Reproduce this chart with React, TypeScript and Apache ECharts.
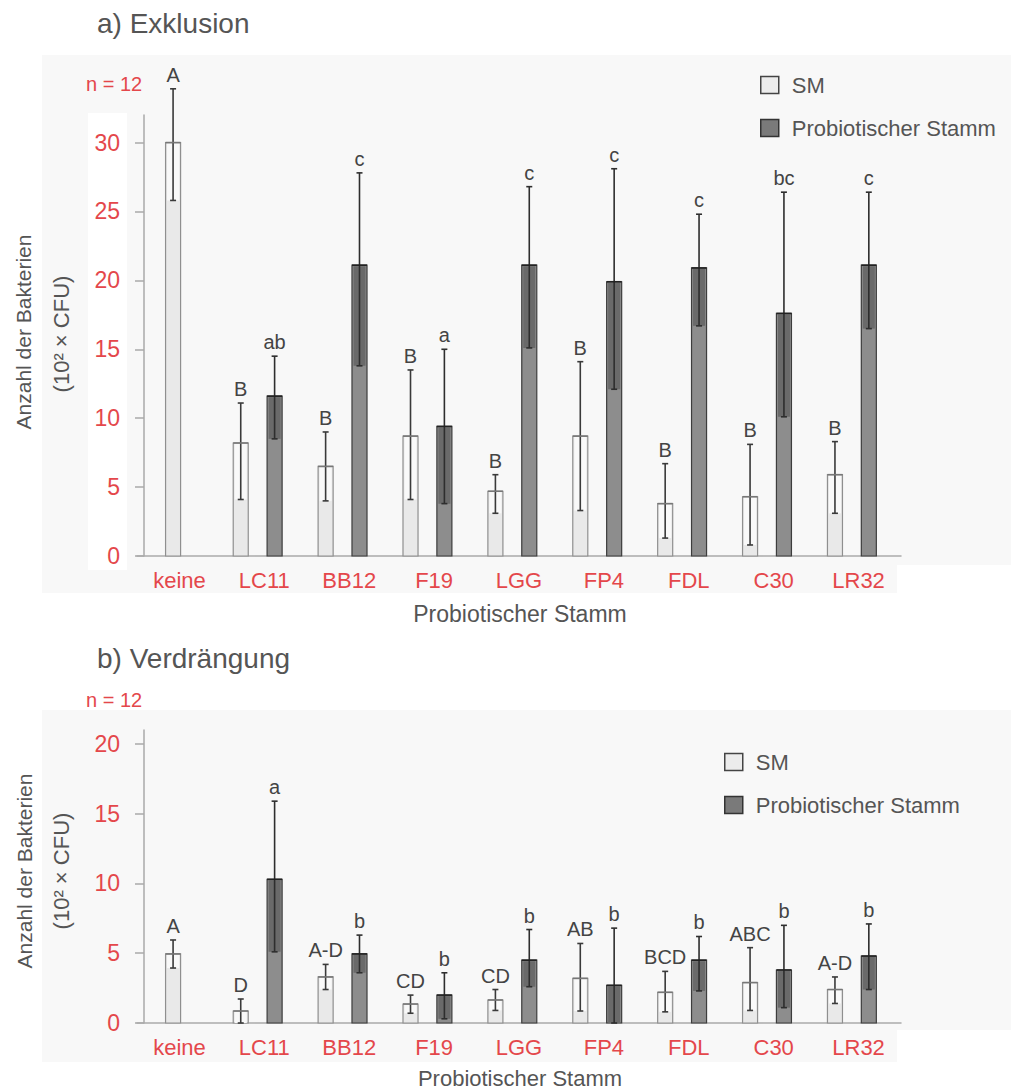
import React, { useEffect, useRef } from 'react';
import * as echarts from 'echarts';

// ---------- data ----------
const categories = ['keine', 'LC11', 'BB12', 'F19', 'LGG', 'FP4', 'FDL', 'C30', 'LR32'];
const yTicksA = [0, 5, 10, 15, 20, 25, 30];
const yTicksB = [0, 5, 10, 15, 20];

// a) Exklusion
const exSmMean = [30.0, 8.2, 6.5, 8.7, 4.7, 8.7, 3.8, 4.3, 5.9];
const exSmLow = [25.8, 4.1, 4.0, 4.1, 3.1, 3.3, 1.3, 0.8, 3.1];
const exSmHigh = [33.9, 11.1, 9.0, 13.5, 5.9, 14.1, 6.7, 8.1, 8.3];
const exSmLetters = ['A', 'B', 'B', 'B', 'B', 'B', 'B', 'B', 'B'];
const exProbMean = [null, 11.6, 21.1, 9.4, 21.1, 19.9, 20.9, 17.6, 21.1];
const exProbLow = [null, 8.5, 13.8, 3.8, 15.1, 12.1, 16.7, 10.1, 16.5];
const exProbHigh = [null, 14.5, 27.8, 15.0, 26.8, 28.1, 24.8, 26.4, 26.4];
const exProbLetters = [null, 'ab', 'c', 'a', 'c', 'c', 'c', 'bc', 'c'];

// b) Verdrängung
const vdSmMean = [4.95, 0.86, 3.3, 1.36, 1.65, 3.2, 2.2, 2.9, 2.4];
const vdSmLow = [3.94, 0.0, 2.4, 0.7, 0.9, 0.86, 0.8, 0.9, 1.4];
const vdSmHigh = [5.95, 1.72, 4.2, 2.0, 2.4, 5.7, 3.7, 5.4, 3.3];
const vdSmLetters = ['A', 'D', 'A-D', 'CD', 'CD', 'AB', 'BCD', 'ABC', 'A-D'];
const vdProbMean = [null, 10.3, 4.95, 2.0, 4.5, 2.7, 4.5, 3.8, 4.8];
const vdProbLow = [null, 5.1, 3.6, 0.3, 2.6, 0.0, 2.3, 1.1, 2.4];
const vdProbHigh = [null, 15.9, 6.3, 3.6, 6.7, 6.8, 6.2, 7.0, 7.1];
const vdProbLetters = [null, 'a', 'b', 'b', 'b', 'b', 'b', 'b', 'b'];

// ---------- styles ----------
const RED = '#e4474b';
const TXT = '#555555';
const FONT = '"Liberation Sans", Arial, Helvetica, sans-serif';

const STYLE = {
  sm: { fill: '#e9e9e9', stroke: '#8f8f8f', band: '#f9f9f9', err: '#3a3a3a' },
  prob: { fill: '#8d8d8d', stroke: '#3d3d3d', band: '#6a6a6a', err: '#2e2e2e' },
};

function makeRender(kind: 'sm' | 'prob', letters: (string | null)[], probMean: (number | null)[]) {
  const st = STYLE[kind];
  return (params: any, api: any) => {
    const idx = api.value(0);
    const mean = api.value(1);
    const lo = api.value(2);
    const hi = api.value(3);
    const band = api.size([1, 0])[0];
    const base = api.coord([idx, 0]);
    const solo = kind === 'sm' && probMean[idx] == null;
    const off = solo ? -0.075 : kind === 'sm' ? -0.278 : 0.121;
    const w = band * 0.177;
    const cx = base[0] + off * band;
    const yTop = api.coord([idx, mean])[1];
    const yLo = api.coord([idx, lo])[1];
    const yHi = api.coord([idx, hi])[1];
    const children: any[] = [
      {
        type: 'rect',
        shape: { x: cx - w / 2, y: yTop, width: w, height: base[1] - yTop },
        style: { fill: st.fill, stroke: st.stroke, lineWidth: 1.2 },
      },
    ];
    if (yLo > yTop + 1) {
      children.push({
        type: 'rect',
        shape: { x: cx - w / 2 + 1.5, y: yTop + 1, width: w - 3, height: yLo - yTop - 1 },
        style: { fill: st.band },
      });
    }
    children.push(
      { type: 'line', shape: { x1: cx, y1: yLo, x2: cx, y2: yHi }, style: { stroke: st.err, lineWidth: 1.6 } },
      { type: 'line', shape: { x1: cx - 3, y1: yHi, x2: cx + 3, y2: yHi }, style: { stroke: st.err, lineWidth: 1.6 } },
      { type: 'line', shape: { x1: cx - 3, y1: yLo, x2: cx + 3, y2: yLo }, style: { stroke: st.err, lineWidth: 1.6 } },
      {
        type: 'line',
        shape: { x1: cx - w / 2, y1: yTop, x2: cx + w / 2, y2: yTop },
        style: { stroke: kind === 'prob' ? '#222' : '#777', lineWidth: 1.6 },
      }
    );
    const letter = letters[idx];
    if (letter) {
      children.push({
        type: 'text',
        x: cx,
        y: yHi - 4,
        style: {
          text: letter,
          align: 'center',
          verticalAlign: 'bottom',
          fontSize: 20,
          fontFamily: FONT,
          fill: '#444',
        },
      });
    }
    return { type: 'group', children };
  };
}

function buildData(mean: (number | null)[], low: (number | null)[], high: (number | null)[]) {
  const out: any[] = [];
  mean.forEach((m, i) => {
    if (m != null) out.push([i, m, low[i], high[i]]);
  });
  return out;
}

function xAxisOpt(gridIndex: number) {
  return {
    type: 'category',
    gridIndex,
    data: categories,
    axisLine: { show: true, lineStyle: { color: '#aaaaaa', width: 1.5 } },
    axisTick: { show: false },
    splitLine: { show: false },
    axisLabel: {
      interval: 0,
      color: RED,
      fontSize: 22,
      fontFamily: FONT,
      margin: 13,
    },
  };
}

function yAxisOpt(gridIndex: number, max: number, ticks: number[]) {
  return {
    type: 'value',
    gridIndex,
    min: 0,
    max,
    offset: -7,
    axisLine: { show: true, lineStyle: { color: '#aaaaaa', width: 1.5 } },
    axisTick: { show: true, length: 9, lineStyle: { color: '#aaaaaa', width: 1.5 }, customValues: ticks },
    splitLine: { show: false },
    axisLabel: { color: RED, fontSize: 23, fontFamily: FONT, margin: 24, customValues: ticks },
  };
}

function legendOpt(left: number, top: number) {
  return {
    orient: 'vertical',
    left,
    top,
    itemWidth: 18,
    itemHeight: 17,
    itemGap: 21,
    selectedMode: false,
    textStyle: { color: TXT, fontSize: 22, fontFamily: FONT, lineHeight: 22, padding: [0, 0, 0, 8] },
    data: [
      { name: 'SM', icon: 'rect', itemStyle: { color: '#ececec', borderColor: '#444', borderWidth: 1.5 } },
      { name: 'Probiotischer Stamm', icon: 'rect', itemStyle: { color: '#7a7a7a', borderColor: '#333', borderWidth: 1.5 } },
    ],
  };
}

function textEl(text: string, x: number, y: number, size: number, color: string, extra: any = {}) {
  return {
    type: 'text',
    x,
    y,
    z: 10,
    ...extra,
    style: { text, fontSize: size, fontFamily: FONT, fill: color, align: 'left', verticalAlign: 'middle', ...(extra.style || {}) },
  };
}

export default function App() {
  const ref = useRef<HTMLDivElement>(null);
  useEffect(() => {
    document.body.style.margin = '0';
    if (!ref.current) return;
    const chart = echarts.init(ref.current, undefined, { renderer: 'svg' });
    const option: any = {
      animation: false,
      backgroundColor: '#ffffff',
      grid: [
        { left: 137, top: 115, width: 764, height: 441 },
        { left: 137, top: 730, width: 764, height: 293 },
      ],
      xAxis: [xAxisOpt(0), xAxisOpt(1)],
      yAxis: [yAxisOpt(0, 32, yTicksA), yAxisOpt(1, 21, yTicksB)],
      legend: [legendOpt(755, 69), legendOpt(719, 746)],
      graphic: [
        { type: 'rect', z: -10, shape: { x: 42, y: 55, width: 969, height: 510 }, style: { fill: '#f8f8f8' } },
        { type: 'rect', z: -10, shape: { x: 42, y: 565, width: 855, height: 28 }, style: { fill: '#f8f8f8' } },
        { type: 'rect', z: -9, shape: { x: 88, y: 113, width: 39, height: 457 }, style: { fill: '#ffffff' } },
        { type: 'rect', z: -10, shape: { x: 42, y: 710, width: 969, height: 320 }, style: { fill: '#f8f8f8' } },
        { type: 'rect', z: -10, shape: { x: 42, y: 1030, width: 855, height: 32 }, style: { fill: '#f8f8f8' } },
        textEl('a) Exklusion', 97, 23, 28, TXT),
        textEl('b) Verdrängung', 97, 658, 28, TXT),
        textEl('n = 12', 86, 84, 20, RED),
        textEl('n = 12', 86, 700, 20, RED),
        textEl('Anzahl der Bakterien', 23, 332, 21, TXT, { rotation: Math.PI / 2, style: { align: 'center' } }),
        textEl('(10² × CFU)', 61, 334, 22, TXT, { rotation: Math.PI / 2, style: { align: 'center' } }),
        textEl('Anzahl der Bakterien', 24, 871, 21, TXT, { rotation: Math.PI / 2, style: { align: 'center' } }),
        textEl('(10² × CFU)', 61, 871, 22, TXT, { rotation: Math.PI / 2, style: { align: 'center' } }),
        textEl('Probiotischer Stamm', 520, 614, 23, TXT, { style: { align: 'center' } }),
        textEl('Probiotischer Stamm', 520, 1078, 22, TXT, { style: { align: 'center' } }),
      ],
      series: [
        {
          type: 'custom',
          name: 'SM',
          xAxisIndex: 0,
          yAxisIndex: 0,
          itemStyle: { color: '#e9e9e9' },
          encode: { x: 0, y: 1 },
          renderItem: makeRender('sm', exSmLetters, exProbMean),
          data: buildData(exSmMean, exSmLow, exSmHigh),
        },
        {
          type: 'custom',
          name: 'Probiotischer Stamm',
          xAxisIndex: 0,
          yAxisIndex: 0,
          itemStyle: { color: '#8d8d8d' },
          encode: { x: 0, y: 1 },
          renderItem: makeRender('prob', exProbLetters, exProbMean),
          data: buildData(exProbMean, exProbLow, exProbHigh),
        },
        {
          type: 'custom',
          name: 'SM',
          xAxisIndex: 1,
          yAxisIndex: 1,
          itemStyle: { color: '#e9e9e9' },
          encode: { x: 0, y: 1 },
          renderItem: makeRender('sm', vdSmLetters, vdProbMean),
          data: buildData(vdSmMean, vdSmLow, vdSmHigh),
        },
        {
          type: 'custom',
          name: 'Probiotischer Stamm',
          xAxisIndex: 1,
          yAxisIndex: 1,
          itemStyle: { color: '#8d8d8d' },
          encode: { x: 0, y: 1 },
          renderItem: makeRender('prob', vdProbLetters, vdProbMean),
          data: buildData(vdProbMean, vdProbLow, vdProbHigh),
        },
      ],
    };
    chart.setOption(option);
    return () => chart.dispose();
  }, []);
  return <div ref={ref} style={{ width: 1011, height: 1092 }} />;
}
